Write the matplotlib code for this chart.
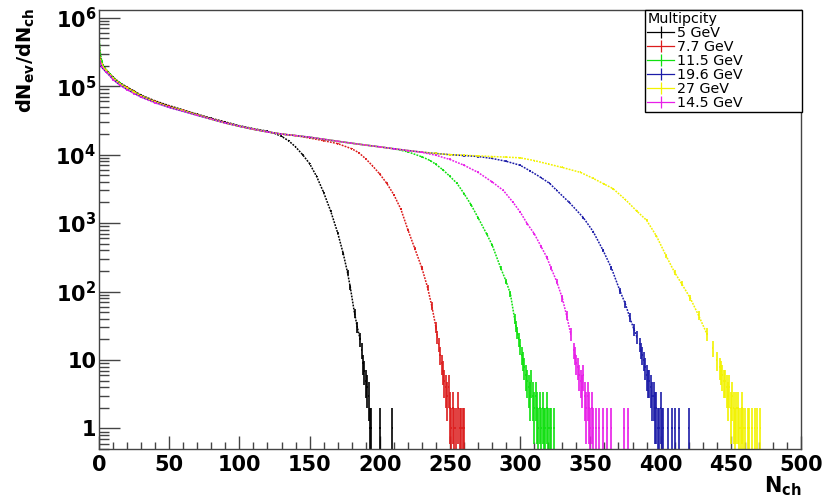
"""Charged-particle multiplicity distributions dN_ev/dN_ch for several beam energies (ROOT-style log plot)."""

import numpy as np
from matplotlib import pyplot as plt
from matplotlib.lines import Line2D
from matplotlib.ticker import FixedLocator, LogLocator, MultipleLocator, NullFormatter

# ---- data (bin centre N_ch, entries) ----
n_5 = [0, 1, 2, 3, 5, 8, 10, 15, 20, 25, 30, 40, 50, 60, 70, 80, 90, 100, 110, 120, 125, 130, 135, 140,
       145, 150, 155, 160, 165, 170, 174, 177, 179, 182, 184,
       186, 187, 188, 189, 190, 191, 192, 193, 194, 200, 209]
c_5 = [3.5e5, 2.7e5, 2.2e5, 2.0e5, 1.75e5, 1.5e5, 1.35e5, 1.12e5, 9.7e4, 8.5e4, 7.4e4, 6.1e4, 5.2e4, 4.5e4,
       3.9e4, 3.4e4, 3.0e4, 2.65e4, 2.4e4, 2.2e4, 2.05e4, 1.85e4, 1.6e4, 1.3e4,
       1.0e4, 7.4e3, 4.8e3, 2.8e3, 1.5e3, 720, 356, 190, 115, 48, 30,
       20, 14, 9, 7, 5, 4, 3, 1, 1, 1, 1]

n_7p7 = [0, 1, 2, 3, 5, 8, 10, 15, 20, 25, 30, 40, 50, 60, 70, 80, 90, 100, 110, 120, 130, 140, 150, 160,
         170, 180, 185, 190, 195, 200, 205, 210, 215, 220, 225, 230, 234, 237,
         240, 241, 242, 243, 244, 245, 246, 247, 248, 249, 250, 251, 252, 253, 254, 256, 257, 258, 259, 260]
c_7p7 = [4.5e5, 2.5e5, 2.1e5, 1.95e5, 1.72e5, 1.48e5, 1.33e5, 1.1e5, 9.6e4, 8.4e4, 7.3e4, 6.0e4, 5.1e4,
         4.45e4, 3.85e4, 3.35e4, 2.95e4, 2.6e4, 2.35e4, 2.15e4, 2.0e4, 1.9e4, 1.75e4, 1.6e4,
         1.45e4, 1.22e4, 1.07e4, 8.7e3, 6.8e3, 5.2e3, 3.8e3, 2.6e3, 1.6e3, 800, 420, 220, 115, 62,
         30, 22, 17, 12, 9, 7, 5, 4, 3, 4, 2, 1, 2, 1, 1, 2, 1, 1, 1, 1]

n_11p5 = [0, 1, 2, 3, 5, 8, 10, 15, 20, 25, 30, 40, 50, 60, 70, 80, 90, 100, 110, 120, 130, 140, 150, 160,
          170, 180, 190, 200, 210, 220, 230, 236, 240, 245, 250, 255, 260, 265, 270, 276, 280, 286, 290, 293,
          296, 297, 298, 299, 300, 301, 302, 303, 304, 305, 306, 307, 308, 309, 310, 311, 312, 313, 314,
          315, 316, 317, 318, 319, 320, 321, 322, 324]
c_11p5 = [5.2e5, 3.0e5, 2.3e5, 2.0e5, 1.75e5, 1.5e5, 1.34e5, 1.1e5, 9.5e4, 8.3e4, 7.2e4, 5.9e4, 5.0e4, 4.4e4,
          3.8e4, 3.3e4, 2.9e4, 2.6e4, 2.35e4, 2.15e4, 2.0e4, 1.9e4, 1.8e4, 1.68e4,
          1.57e4, 1.47e4, 1.38e4, 1.3e4, 1.22e4, 1.1e4, 9.3e3, 8.2e3, 7.2e3, 6.0e3, 4.8e3, 3.8e3, 2.7e3,
          1.85e3, 1.2e3, 700, 480, 224, 140, 93,
          40, 31, 25, 20, 16, 12, 10, 8, 6, 5, 4, 3, 5, 3, 2, 3, 2, 1, 2,
          1, 2, 1, 1, 2, 1, 1, 1, 1]

n_19p6 = [0, 1, 2, 3, 5, 8, 10, 15, 20, 25, 30, 40, 50, 60, 70, 80, 90, 100, 110, 120, 130, 140, 150, 160,
          170, 180, 190, 200, 210, 220, 230, 240, 250, 260, 270, 280, 290, 300, 307, 315, 321, 326, 335, 345,
          352, 359, 365, 371, 375, 378, 381, 383,
          385, 386, 387, 388, 389, 390, 391, 392, 393, 394, 395, 396, 397, 398, 399, 400, 401, 402, 405,
          408, 410, 413, 420]
c_19p6 = [2.5e5, 2.2e5, 1.9e5, 1.8e5, 1.62e5, 1.4e5, 1.26e5, 1.04e5, 9.0e4, 7.9e4, 7.0e4, 5.8e4, 4.9e4, 4.3e4,
          3.75e4, 3.3e4, 2.9e4, 2.6e4, 2.35e4, 2.15e4, 2.0e4, 1.9e4, 1.8e4, 1.68e4,
          1.57e4, 1.47e4, 1.38e4, 1.3e4, 1.22e4, 1.15e4, 1.09e4, 1.04e4, 1.0e4, 9.7e3, 9.4e3, 8.8e3, 8.0e3,
          7.0e3, 5.8e3, 4.6e3, 3.8e3, 3.0e3, 2.0e3, 1.2e3,
          750, 400, 220, 103, 65, 42, 28, 22,
          17, 14, 12, 10, 8, 6, 5, 5, 4, 3, 3, 2, 2, 1, 1, 2, 1, 1, 1,
          1, 1, 1, 1]

n_27 = [0, 1, 2, 3, 5, 8, 10, 15, 20, 25, 30, 40, 50, 60, 70, 80, 90, 100, 110, 120, 130, 140, 150, 160,
        170, 180, 190, 200, 210, 220, 230, 240, 250, 260, 270, 280, 290, 300, 310, 320, 330, 343, 352, 360,
        366, 375, 383, 390, 397, 404, 410, 415, 421, 427, 433, 437, 440,
        442, 443, 444, 445, 446, 447, 448, 449, 450, 451, 452, 453, 454, 455, 456, 457, 458, 459, 460,
        462, 463, 465, 467, 469, 471]
c_27 = [3.0e5, 2.4e5, 2.1e5, 1.9e5, 1.7e5, 1.47e5, 1.32e5, 1.08e5, 9.4e4, 8.2e4, 7.2e4, 5.9e4, 5.0e4, 4.4e4,
        3.8e4, 3.3e4, 2.9e4, 2.6e4, 2.35e4, 2.15e4, 2.0e4, 1.9e4, 1.8e4, 1.68e4,
        1.57e4, 1.47e4, 1.38e4, 1.3e4, 1.22e4, 1.15e4, 1.09e4, 1.04e4, 1.0e4, 9.8e3, 9.6e3, 9.4e3, 9.2e3,
        9.0e3, 8.2e3, 7.3e3, 6.5e3, 5.5e3, 4.5e3, 3.7e3,
        3.2e3, 2.2e3, 1.5e3, 1.1e3, 650, 330, 190, 130, 81, 45, 24, 15, 10,
        8, 7, 6, 5, 5, 4, 3, 4, 2, 3, 2, 1, 2, 2, 1, 1, 2, 1, 1,
        1, 1, 1, 1, 1, 1]

n_14p5 = [0, 1, 2, 3, 5, 8, 10, 15, 20, 25, 30, 40, 50, 60, 70, 80, 90, 100, 110, 120, 130, 140, 150, 160,
          170, 180, 190, 200, 210, 220, 230, 240, 250, 260, 270, 280, 288, 295, 300, 305, 310, 315, 319, 322,
          326, 330, 333, 336,
          338, 339, 340, 341, 342, 343, 344, 345, 346, 347, 348, 349, 350, 351, 352, 354, 356, 359, 362,
          365, 374, 377]
c_14p5 = [2.0e5, 2.3e5, 1.9e5, 1.8e5, 1.62e5, 1.4e5, 1.25e5, 1.03e5, 8.9e4, 7.8e4, 6.9e4, 5.7e4, 4.9e4, 4.3e4,
          3.75e4, 3.3e4, 2.9e4, 2.6e4, 2.35e4, 2.15e4, 2.0e4, 1.9e4, 1.8e4, 1.68e4,
          1.57e4, 1.47e4, 1.38e4, 1.3e4, 1.22e4, 1.15e4, 1.08e4, 9.8e3, 8.5e3, 7.0e3, 5.5e3, 4.0e3, 3.0e3,
          2.0e3, 1.45e3, 980, 700, 450, 315, 220,
          140, 80, 45, 24,
          14, 12, 9, 8, 6, 5, 4, 6, 3, 2, 3, 2, 1, 2, 1, 1, 1, 1, 1,
          1, 1, 1]

# legend order (label, N, entries, colour)
SERIES = [
    ("5 GeV", n_5, c_5, "black"),
    ("7.7 GeV", n_7p7, c_7p7, "#dc1c1c"),
    ("11.5 GeV", n_11p5, c_11p5, "#10e010"),
    ("19.6 GeV", n_19p6, c_19p6, "#1c1ca8"),
    ("27 GeV", n_27, c_27, "#f2f200"),
    ("14.5 GeV", n_14p5, c_14p5, "#e81ee8"),
]

FONT = "DejaVu Sans"

fig = plt.figure(figsize=(8.37, 4.99), dpi=100)
ax = fig.add_axes([99 / 837, 1 - 449 / 499, (801 - 99) / 837, (449 - 10) / 499])

handles = []
for label, n, c, col in SERIES:
    n = np.asarray(n, dtype=float)
    c = np.asarray(c, dtype=float)
    smooth = c >= 20
    ax.plot(n[smooth], c[smooth], color=col, lw=1.1, ls=(0, (1.2, 0.8)))
    # poisson error bars, bin width 1
    ax.errorbar(n, c, xerr=0.5, yerr=np.sqrt(c), fmt="none", ecolor=col, elinewidth=1.2, capsize=0)
    handles.append(Line2D([], [], color=col, lw=0.9, marker="|", markersize=9, markeredgewidth=0.9))

ax.set_yscale("log")
ax.set_xlim(0, 500)
ax.set_ylim(0.5, 1.3e6)

ax.xaxis.set_major_locator(MultipleLocator(50))
ax.xaxis.set_minor_locator(MultipleLocator(10))
ax.yaxis.set_major_locator(FixedLocator([1, 10, 1e2, 1e3, 1e4, 1e5, 1e6]))
ax.yaxis.set_minor_locator(LogLocator(base=10, subs=np.arange(2, 10)))
ax.yaxis.set_minor_formatter(NullFormatter())
ax.set_yticklabels(["1", "10", r"$\mathbf{10^{2}}$", r"$\mathbf{10^{3}}$", r"$\mathbf{10^{4}}$",
                    r"$\mathbf{10^{5}}$", r"$\mathbf{10^{6}}$"])

ax.tick_params(axis="both", which="both", direction="in", top=False, right=False, color="#444444", width=1.0)
ax.tick_params(axis="x", which="major", length=9.5, pad=4)
ax.tick_params(axis="x", which="minor", length=5)
ax.tick_params(axis="y", which="major", length=15, pad=2)
ax.tick_params(axis="y", which="minor", length=7.5)
for lab in ax.get_xticklabels() + ax.get_yticklabels():
    lab.set_fontfamily(FONT)
    lab.set_fontweight("bold")
    lab.set_fontsize(15)
for sp in ax.spines.values():
    sp.set_color("#444444")
    sp.set_linewidth(1.0)

fig.text(26 / 837, 1 - 8 / 499, r"$\mathbf{dN_{ev}/dN_{ch}}$", rotation=90, ha="center", va="top",
         fontsize=14, family=FONT)
fig.text(802 / 837, 1 - 474 / 499, r"$\mathbf{N_{ch}}$", ha="right", va="top", fontsize=15, family=FONT)

# fixed-size ROOT-like legend box in the upper right corner
leg = ax.legend(handles, [s[0] for s in SERIES], title="Multipcity", loc="upper left",
                bbox_to_anchor=(0.778, 0.761, 0.2236, 0.239), mode="expand", borderaxespad=0,
                fancybox=False, framealpha=1, edgecolor="black", fontsize=10.3, title_fontsize=10.3,
                alignment="left", handlelength=1.85, handletextpad=0.25, labelspacing=0.0, borderpad=0.15)
leg.get_frame().set_linewidth(1.0)

fig.savefig("out.png", dpi=100)
